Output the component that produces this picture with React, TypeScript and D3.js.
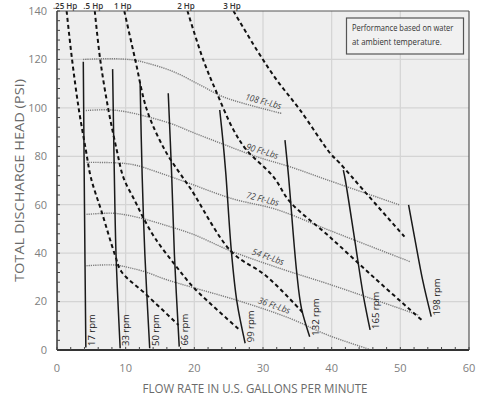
import React from "react";
import * as d3 from "d3";

const width = 477;
const height = 400;
const margin = { top: 11, right: 8, bottom: 50, left: 57 };

// axis ticks
const xTicks = [0, 10, 20, 30, 40, 50, 60];
const yTicks = [0, 20, 40, 60, 80, 100, 120, 140];

// horsepower lines (dashed) [gpm, psi]
const hpLabels = [".25 Hp", ".5 Hp", "1 Hp", "2 Hp", "3 Hp"];
const hp025 = [[1.4, 140], [2.2, 119.8], [3.2, 99], [4.2, 82.6], [4.95, 71], [6.5, 57.1], [8.45, 39.2], [9.4, 32.3], [12.8, 23.4], [17.7, 10.3]];
const hp05 = [[5.5, 140], [6.3, 119.8], [7.5, 99], [8.7, 82.6], [9.7, 71], [11.4, 61.3], [12.6, 54.4], [14.3, 46.1], [17.2, 35.1], [20, 25.5], [26.6, 8.3]];
const hp1 = [[9.8, 140], [11.4, 119.8], [13.1, 99.1], [15.7, 82.6], [18.4, 70.9], [19.6, 66], [25.4, 40.6], [30.5, 30.5], [35.9, 15.1]];
const hp2 = [[19, 140], [21.3, 119.8], [23.3, 106], [25.7, 90.9], [27.6, 82.6], [31.5, 71.6], [33.9, 61.3], [39.6, 47], [46.3, 29.6], [53.1, 12.4]];
const hp3 = [[25.7, 140], [29.1, 123.9], [32, 111.5], [35.4, 99.1], [39.8, 81.2], [41.2, 77.1], [44.6, 66.1], [50.6, 46.8]];
const hpSeries = [hp025, hp05, hp1, hp2, hp3];

// speed lines (solid)
const rpmLabels = ["17 rpm", "33 rpm", "50 rpm", "66 rpm", "99 rpm", "132 rpm", "165 rpm", "198 rpm"];
const rpm17 = [[3.83, 119], [4.0, 60], [4.2, 1]];
const rpm33 = [[8.1, 116], [8.35, 72.3], [8.6, 39.2], [9.2, 0.7]];
const rpm50 = [[12.1, 110.8], [12.4, 72.3], [12.8, 39.2], [13.5, 0.7]];
const rpm66 = [[16.2, 106], [16.7, 72.3], [17.1, 39.2], [17.8, 1.4]];
const rpm99 = [[23.7, 99.1], [24.2, 85.4], [24.6, 72.3], [25.4, 40.6], [26.2, 20], [27.4, 2.8]];
const rpm132 = [[33.2, 86.7], [33.7, 72.3], [34.9, 32.3], [35.6, 17.2], [36.8, 5.5]];
const rpm165 = [[41.7, 74.3], [42.0, 70], [43.4, 44.7], [44.6, 22.7], [45.6, 8.3]];
const rpm198 = [[51.2, 59.9], [52.1, 46.1], [53.3, 28.2], [54.5, 13.8]];
const rpmSeries = [rpm17, rpm33, rpm50, rpm66, rpm99, rpm132, rpm165, rpm198];

// torque lines (dotted)
const torqueLabels = ["108 Ft-Lbs", "90 Ft-Lbs", "72 Ft-Lbs", "54 Ft-Lbs", "36 Ft-Lbs"];
const torqueLabelX = [29.8, 29.6, 29.7, 30.4, 31.3];
const t108 = [[3.8, 120], [8, 120.3], [11, 119.8], [13.1, 118.5], [16.9, 115], [20.8, 109.5], [24, 104.8], [27.1, 101.9], [32.7, 97.7]];
const t90 = [[4.2, 98.9], [7.5, 99.2], [10, 98.4], [12.8, 96.6], [16.7, 93.4], [20, 89.6], [24.2, 85], [29.1, 79.8], [33.9, 75.7], [39.4, 70.2], [49.9, 59.9]];
const t72 = [[4.3, 77.5], [9.2, 77.2], [11.5, 76.3], [14.5, 73.6], [18.9, 69.2], [25.5, 62.5], [32, 58], [39.6, 49.5], [51.4, 36.5]];
const t54 = [[4.3, 56], [8, 56.5], [10, 55.8], [12.3, 54.4], [15.7, 51.6], [19.8, 47.8], [25.4, 40.8], [33, 33.2], [39.6, 27.2], [52.6, 14.5]];
const t36 = [[4.3, 34.8], [8.45, 35.1], [10.5, 34], [12.8, 32.3], [16, 29], [19.8, 25.8], [26.6, 20.2], [33.9, 13.1], [39.4, 6.2], [45.8, 0]];
const torqueSeries = [t108, t90, t72, t54, t36];

const noteLines = ["Performance based on water", "at ambient temperature."];

const x = d3.scaleLinear().domain([0, 60]).range([margin.left, width - margin.right]);
const y = d3.scaleLinear().domain([0, 140]).range([height - margin.bottom, margin.top]);

const line = d3
  .line<number[]>()
  .x((d) => x(d[0]))
  .y((d) => y(d[1]))
  .curve(d3.curveCatmullRom.alpha(0.5));

const font = "'Open Sans', 'DejaVu Sans', sans-serif";

// where a torque label sits: on its line, a little above, rotated with it
function labelPlace(pts: number[][], xv: number) {
  let i = 0;
  while (i < pts.length - 2 && pts[i + 1][0] < xv) i++;
  const [a, b] = [pts[i], pts[i + 1]];
  const t = (xv - a[0]) / (b[0] - a[0]);
  const yv = a[1] + t * (b[1] - a[1]);
  const ang = (Math.atan2(y(b[1]) - y(a[1]), x(b[0]) - x(a[0])) * 180) / Math.PI;
  const off = 7;
  const rad = (ang * Math.PI) / 180;
  return { px: x(xv) + off * Math.sin(rad), py: y(yv) - off * Math.cos(rad), ang };
}

export default function App() {
  const x0 = x(0), x1 = x(60), y0 = y(0), y1 = y(140);
  const minorX = d3.range(0, 61, 2);
  const minorY = d3.range(0, 141, 4);

  return (
    <svg width={width} height={height} style={{ position: "absolute", left: 0, top: 0, background: "#fff" }}>
      <rect x={x0} y={y1} width={x1 - x0} height={y0 - y1} fill="#eeeeee" />

      {/* grid */}
      {xTicks.slice(1, -1).map((t) => (
        <line key={"gx" + t} x1={x(t)} x2={x(t)} y1={y1} y2={y0} stroke="#d4d4d4" strokeWidth={1.2} />
      ))}
      {yTicks.slice(1, -1).map((t) => (
        <line key={"gy" + t} x1={x0} x2={x1} y1={y(t)} y2={y(t)} stroke="#d4d4d4" strokeWidth={1.2} />
      ))}

      {/* torque */}
      {torqueSeries.map((s, i) => (
        <path key={"t" + i} d={line(s) || ""} fill="none" stroke="#7a7a7a" strokeWidth={1.4} strokeDasharray="1.2,1" />
      ))}
      {torqueSeries.map((s, i) => {
        const p = labelPlace(s, torqueLabelX[i]);
        return (
          <text
            key={"tl" + i}
            transform={`translate(${p.px},${p.py}) rotate(${p.ang})`}
            textAnchor="middle"
            dy="0.35em"
            fontFamily={font}
            fontStyle="italic"
            fontSize={9}
            fill="#444"
            textLength={torqueLabels[i].length * 3.7}
            lengthAdjust="spacingAndGlyphs"
          >
            {torqueLabels[i]}
          </text>
        );
      })}

      {/* horsepower */}
      {hpSeries.map((s, i) => (
        <path key={"h" + i} d={line(s) || ""} fill="none" stroke="#111" strokeWidth={2} strokeDasharray="4,3" />
      ))}
      {hpSeries.map((s, i) => (
        <text
          key={"hl" + i}
          x={x(s[0][0]) - 1.5}
          y={8.5}
          textAnchor="middle"
          fontFamily={font}
          fontWeight={600}
          fontSize={8}
          fill="#333"
        >
          {hpLabels[i]}
        </text>
      ))}

      {/* speed */}
      {rpmSeries.map((s, i) => (
        <path key={"r" + i} d={line(s) || ""} fill="none" stroke="#1a1a1a" strokeWidth={1.5} />
      ))}
      {rpmSeries.map((s, i) => {
        const end = s[s.length - 1];
        const px = x(end[0]) + 9;
        const py = Math.min(y(end[1]), y0 - 3) - 1;
        return (
          <text key={"rl" + i} transform={`translate(${px},${py}) rotate(-90)`} fontFamily={font} fontSize={9.5} fill="#222">
            {rpmLabels[i]}
          </text>
        );
      })}

      {/* note */}
      <rect x={346.5} y={18} width={117} height={36} fill="#f1f1f1" stroke="#555" strokeWidth={1.2} />
      {noteLines.map((t, i) => (
        <text
          key={"n" + i}
          x={352}
          y={31 + i * 14}
          fontFamily={font}
          fontSize={8.5}
          fill="#333"
          textLength={t.length * 3.9}
          lengthAdjust="spacingAndGlyphs"
        >
          {t}
        </text>
      ))}

      {/* frame + axes */}
      <line x1={x0} x2={x1} y1={y1} y2={y1} stroke="#555" strokeWidth={1.2} />
      <line x1={x1} x2={x1} y1={y1} y2={y0} stroke="#555" strokeWidth={1.2} />
      <line x1={x0} x2={x0} y1={y1} y2={y0} stroke="#333" strokeWidth={1.5} />
      <line x1={x0} x2={x1} y1={y0} y2={y0} stroke="#333" strokeWidth={2} />
      {minorX.map((t) => (
        <line key={"mx" + t} x1={x(t)} x2={x(t)} y1={y0} y2={y0 - 3} stroke="#444" strokeWidth={1} />
      ))}
      {minorY.map((t) => (
        <line key={"my" + t} x1={x0} x2={x0 + 3} y1={y(t)} y2={y(t)} stroke="#444" strokeWidth={1} />
      ))}

      {xTicks.map((t) => (
        <text key={"xl" + t} x={x(t)} y={372} textAnchor="middle" fontFamily={font} fontSize={11} fill="#808080">
          {t}
        </text>
      ))}
      {yTicks.map((t) => (
        <text key={"yl" + t} x={47} y={y(t)} dy="0.35em" textAnchor="end" fontFamily={font} fontSize={11} fill="#808080">
          {t}
        </text>
      ))}

      <text
        x={255}
        y={393}
        textAnchor="middle"
        fontFamily={font}
        fontSize={12.5}
        fill="#6a6a6a"
        textLength={225}
        lengthAdjust="spacingAndGlyphs"
      >
        FLOW RATE IN U.S. GALLONS PER MINUTE
      </text>
      <text
        transform={`translate(24,${(y0 + y1) / 2}) rotate(-90)`}
        textAnchor="middle"
        fontFamily={font}
        fontSize={13.5}
        fill="#6a6a6a"
        textLength={203}
        lengthAdjust="spacingAndGlyphs"
      >
        TOTAL DISCHARGE HEAD (PSI)
      </text>
    </svg>
  );
}
